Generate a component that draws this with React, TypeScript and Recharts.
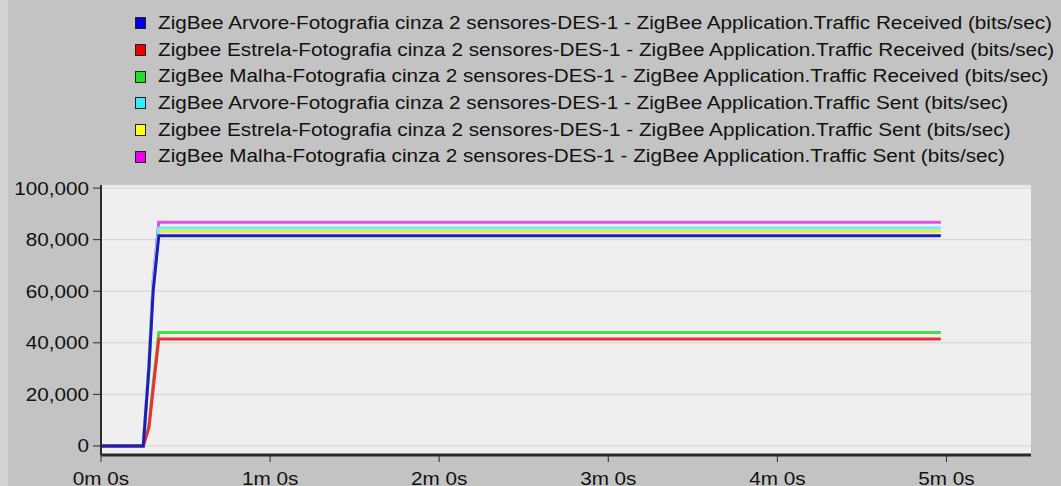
import { LineChart, Line, XAxis, YAxis, CartesianGrid, Legend } from 'recharts';

// simulation time (seconds) and traffic samples (bits/sec)
const TIME_S = [0, 15, 17, 18.5, 20.5, 298];
const ARVORE_RECEIVED = [0, 0, 30000, 60000, 81500, 81500];
const ESTRELA_RECEIVED = [0, 0, 7000, 22000, 41500, 41500];
const MALHA_RECEIVED = [0, 0, 8000, 24000, 44000, 44000];
const ARVORE_SENT = [0, 0, 31000, 62000, 84500, 84500];
const ESTRELA_SENT = [0, 0, 31000, 62000, 83300, 83300];
const MALHA_SENT = [0, 0, 32000, 64000, 86800, 86800];

const Y_TICKS = [0, 20000, 40000, 60000, 80000, 100000];
const X_TICKS = [0, 60, 120, 180, 240, 300];

// legend order
const SERIES = [
  { key: 'arvoreRx', name: 'ZigBee Arvore-Fotografia cinza 2 sensores-DES-1 - ZigBee Application.Traffic Received (bits/sec)', values: ARVORE_RECEIVED, color: '#1c1cc0', swatch: '#0000e6' },
  { key: 'estrelaRx', name: 'Zigbee Estrela-Fotografia cinza 2 sensores-DES-1 - ZigBee Application.Traffic Received (bits/sec)', values: ESTRELA_RECEIVED, color: '#ec3030', swatch: '#ee0000' },
  { key: 'malhaRx', name: 'ZigBee Malha-Fotografia cinza 2 sensores-DES-1 - ZigBee Application.Traffic Received (bits/sec)', values: MALHA_RECEIVED, color: '#48dc48', swatch: '#22dd22' },
  { key: 'arvoreTx', name: 'ZigBee Arvore-Fotografia cinza 2 sensores-DES-1 - ZigBee Application.Traffic Sent (bits/sec)', values: ARVORE_SENT, color: '#70eeee', swatch: '#33eeff' },
  { key: 'estrelaTx', name: 'Zigbee Estrela-Fotografia cinza 2 sensores-DES-1 - ZigBee Application.Traffic Sent (bits/sec)', values: ESTRELA_SENT, color: '#e8e840', swatch: '#ffff22' },
  { key: 'malhaTx', name: 'ZigBee Malha-Fotografia cinza 2 sensores-DES-1 - ZigBee Application.Traffic Sent (bits/sec)', values: MALHA_SENT, color: '#e050e0', swatch: '#ee00ee' },
];

const data = TIME_S.map((t, i) => {
  const row: Record<string, number> = { t };
  SERIES.forEach((s) => { row[s.key] = s.values[i]; });
  return row;
});

const FONT = '"Liberation Sans", Arial, sans-serif';
const STRETCH = 1.15;

const fmtTime = (t: number) => `${Math.floor(t / 60)}m ${t % 60}s`;

const YTick = ({ x, y, payload }: any) => (
  <text
    transform={`translate(${x},${y}) scale(${STRETCH},1)`}
    textAnchor="end"
    dy="0.36em"
    fontSize={18}
    fontFamily={FONT}
    fill="#111"
  >
    {Number(payload.value).toLocaleString('en-US')}
  </text>
);

const XTick = ({ x, y, payload }: any) => (
  <text
    transform={`translate(${x},${y}) scale(${STRETCH},1)`}
    textAnchor="middle"
    dy="0.71em"
    fontSize={18}
    fontFamily={FONT}
    fill="#111"
  >
    {fmtTime(payload.value)}
  </text>
);

const LegendBox = () => (
  <div style={{ fontFamily: FONT }}>
    {SERIES.map((s) => (
      <div key={s.key} style={{ display: 'flex', alignItems: 'center', height: 26.7 }}>
        <div
          style={{
            width: 9,
            height: 10,
            background: s.swatch,
            border: '1px solid #222',
            flexShrink: 0,
          }}
        />
        <span
          style={{
            display: 'inline-block',
            marginLeft: 12,
            fontSize: 18,
            color: '#111',
            whiteSpace: 'nowrap',
            transform: `scaleX(${STRETCH})`,
            transformOrigin: 'left center',
          }}
        >
          {s.name}
        </span>
      </div>
    ))}
  </div>
);

export default function App() {
  // blue drawn last so it sits on top, like the original
  const drawOrder = [...SERIES].reverse();
  return (
    <div style={{ position: 'fixed', left: 0, top: 0, width: 1061, height: 486, background: '#c3c3c3', overflow: 'hidden' }}>
      <div style={{ position: 'absolute', left: 0, top: 0, width: 8, height: 486, background: '#d2d2d2' }} />
      <LineChart width={1061} height={486} data={data} margin={{ top: 185, right: 30, bottom: 0, left: 11 }}>
        <CartesianGrid vertical={false} stroke="#d2d2d2" fill="#efefef" fillOpacity={1} />
        <XAxis
          dataKey="t"
          type="number"
          domain={[0, 330]}
          ticks={X_TICKS}
          height={31}
          tickSize={7}
          tickMargin={10}
          tick={<XTick />}
          axisLine={{ stroke: '#2a2a2a', strokeWidth: 3 }}
          tickLine={{ stroke: '#2a2a2a' }}
          interval={0}
        />
        <XAxis
          xAxisId="top"
          orientation="top"
          dataKey="t"
          type="number"
          domain={[0, 330]}
          height={0}
          tick={false}
          tickLine={false}
          axisLine={{ stroke: '#2a2a2a', strokeWidth: 2 }}
        />
        <YAxis
          type="number"
          domain={[-3500, 101200]}
          ticks={Y_TICKS}
          width={90}
          tickSize={8}
          tickMargin={4}
          tick={<YTick />}
          axisLine={{ stroke: '#2a2a2a', strokeWidth: 2 }}
          tickLine={{ stroke: '#2a2a2a' }}
          interval={0}
        />
        <YAxis
          yAxisId="right"
          orientation="right"
          type="number"
          domain={[-3500, 101200]}
          width={0}
          tick={false}
          tickLine={false}
          axisLine={{ stroke: '#2a2a2a', strokeWidth: 2 }}
        />
        <Legend
          layout="vertical"
          align="center"
          verticalAlign="middle"
          wrapperStyle={{ top: 10, left: 135, width: 920 }}
          content={() => <LegendBox />}
        />
        {drawOrder.map((s) => (
          <Line
            key={s.key}
            type="linear"
            dataKey={s.key}
            name={s.name}
            stroke={s.color}
            strokeWidth={3}
            dot={false}
            isAnimationActive={false}
          />
        ))}
      </LineChart>
    </div>
  );
}
